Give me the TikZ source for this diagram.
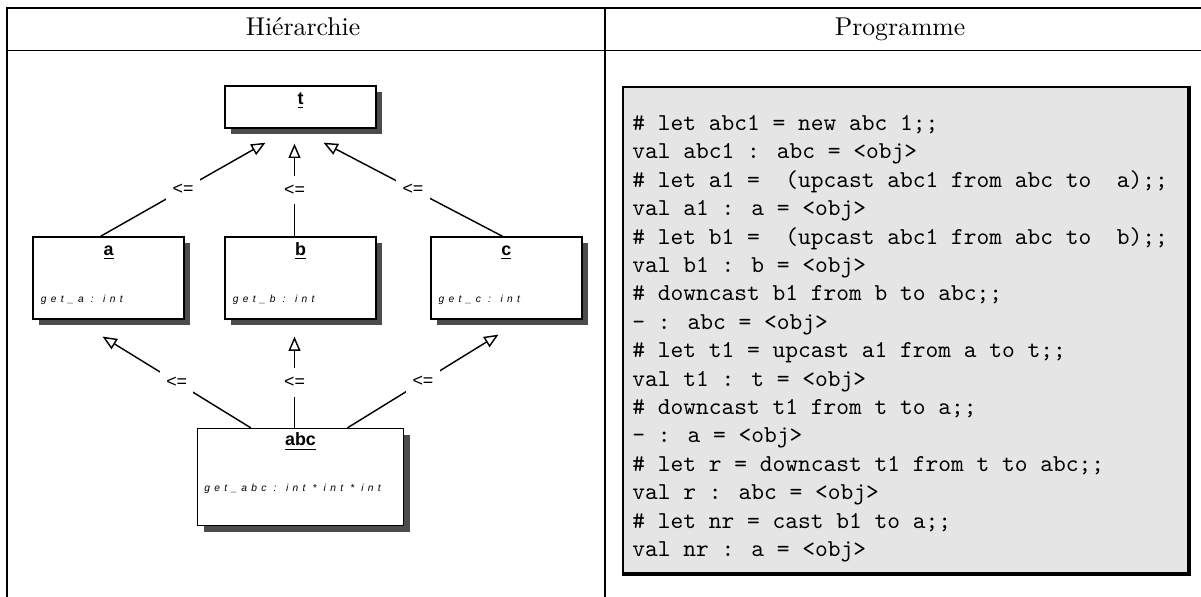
\documentclass[tikz,border=0pt]{standalone}
\usepackage{fontspec}
\newfontfamily\umlfont{Liberation Sans}
\newfontfamily\methfont[LetterSpace=42]{Liberation Sans}
\usetikzlibrary{arrows.meta, positioning, shadows, calc}

\begin{document}
\begin{tikzpicture}[x=0.42pt, y=-0.42pt, on grid, >={Triangle[open, length=6pt, width=5pt]},
    cls/.style={draw, fill=white, line width=0.6pt, minimum width=63.4pt, minimum height=34.4pt,
      drop shadow={shadow xshift=2.6pt, shadow yshift=-2.6pt, fill=black!70, opacity=1}},
    clsname/.style={font=\umlfont\bfseries\fontsize{7.5}{9}\selectfont, anchor=base, inner sep=0pt},
    meth/.style={font=\methfont\itshape\fontsize{4.3}{5}\selectfont, anchor=base west, inner sep=0pt},
    isa/.style={->, line width=0.6pt},
    rel/.style={fill=white, font=\umlfont\fontsize{7.5}{9}\selectfont, minimum width=14pt, minimum height=12pt, inner sep=0pt},
    tab/.style={line width=0.8pt},
    head/.style={anchor=base, inner sep=0pt, font=\fontsize{10.8}{13}\selectfont},
    code/.style={font=\ttfamily\fontsize{10.2}{12}\selectfont, anchor=base west, inner sep=0pt}]
  \useasboundingbox (0,0) rectangle (1201,597);

  % table
  \draw[tab] (7,597) -- (7,8) -- (1201,8);
  \draw[tab] (7,50.5) -- (1201,50.5);
  \draw[tab] (605,8) -- (605,597);
  \node[head] (hier) at (303,36) {Hiérarchie};
  \node[head] (prg) at (900,36) {Programme};

  % hierarchy
  \node[cls, minimum height=17.6pt] (t) at (300.5,107) {};
  \node[cls] (b) [below=71.8pt of t] {};
  \node[cls] (a) [left=80.6pt of b] {};
  \node[cls] (c) [right=86.5pt of b] {};
  \node[cls, minimum width=86.5pt, minimum height=40.7pt] (abc) [below=83.6pt of b] {};

  \node[clsname] (tname) at ($(t.north)+(0,19)$) {\underline{t}};
  \node[clsname] (aname) at ($(a.north)+(0,19)$) {\underline{a}};
  \node[clsname] (bname) at ($(b.north)+(0,19)$) {\underline{b}};
  \node[clsname] (cname) at ($(c.north)+(0,19)$) {\underline{c}};
  \node[clsname] (abcname) at ($(abc.north)+(0,18)$) {\underline{abc}};
  \node[meth] (ameth) at ($(a.north west)+(8,66)$) {get\_a : int};
  \node[meth] (bmeth) at ($(b.north west)+(8,66)$) {get\_b : int};
  \node[meth] (cmeth) at ($(c.north west)+(8,66)$) {get\_c : int};
  \node[meth] (abcmeth) at ($(abc.north west)+(7,64)$) {get\_abc : int * int * int};

  \draw[isa] ($(a.north)+(-8,0)$) -- node[rel] {<=} ($(t.south)+(-35,14)$);
  \draw[isa] ($(b.north)+(-6,0)$) -- node[rel] {<=} ($(t.south)+(-6,15)$);
  \draw[isa] ($(c.north)+(-4,0)$) -- node[rel] {<=} ($(t.south)+(23,14)$);
  \draw[isa] ($(abc.north west)+(54,0)$) -- node[rel] {<=} ($(a.south)+(-6,17)$);
  \draw[isa] ($(abc.north)+(-6,0)$) -- node[rel] {<=} ($(b.south)+(-6,17)$);
  \draw[isa] ($(abc.north)+(47,0)$) -- node[rel] {<=} ($(c.south)+(-8,15)$);

  % program
  \node[draw, fill=black!10, line width=0.8pt, minimum width=237.3pt, minimum height=204.1pt] (prog) at (905.5,330) {};
  \draw[line width=2pt] (prog.north east) -- (prog.south east) -- (prog.south west);
  \foreach \ln [count=\i] in {{\# let abc1 = new abc 1;;},
      {val abc1 : abc = <obj>},
      {\# let a1 =~ (upcast abc1 from abc to~ a);;},
      {val a1 : a = <obj>},
      {\# let b1 =~ (upcast abc1 from abc to~ b);;},
      {val b1 : b = <obj>},
      {\# downcast b1 from b to abc;;},
      {- : abc = <obj>},
      {\# let t1 = upcast a1 from a to t;;},
      {val t1 : t = <obj>},
      {\# downcast t1 from t to a;;},
      {- : a = <obj>},
      {\# let r = downcast t1 from t to abc;;},
      {val r : abc = <obj>},
      {\# let nr = cast b1 to a;;},
      {val nr : a = <obj>}}
    \node[code] (l\i) at (632,102.1+\i*28.4) {\ln};
\end{tikzpicture}
\end{document}
